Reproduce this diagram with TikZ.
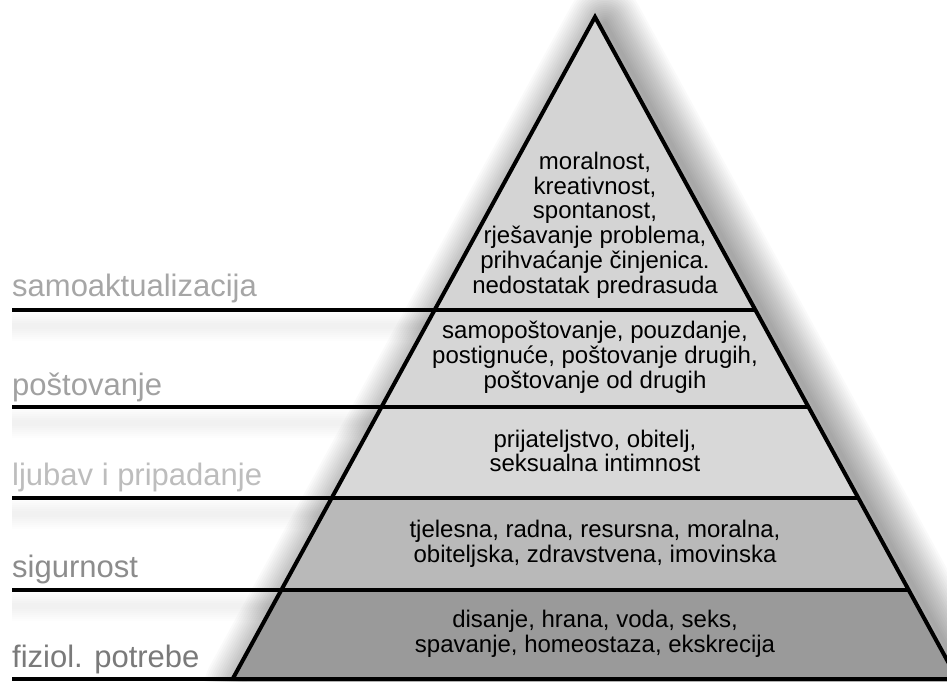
\documentclass[tikz,border=0pt]{standalone}
\usepackage{fontspec}
\setmainfont{Liberation Sans}
\usetikzlibrary{calc}
\definecolor{selffill}{HTML}{D4D4D4}
\definecolor{esteemfill}{HTML}{D6D6D6}
\definecolor{lovefill}{HTML}{D8D8D8}
\definecolor{safefill}{HTML}{B9B9B9}
\definecolor{bodyfill}{HTML}{9A9A9A}
\tikzset{level/.style={anchor=base west,inner sep=0pt,font=\fontsize{31}{31}\selectfont},
  need/.style={align=center,inner sep=0pt,font=\fontsize{24}{24.8}\selectfont},
  bar/.style={line width=4pt},
  blur/.style={line join=round,draw opacity=0.019}}

\begin{document}
\begin{tikzpicture}[x=1pt,y=-1pt]
\useasboundingbox (0,0) rectangle (947,681);
\fill[white] (0,0) rectangle (947,681);

\coordinate (apex) at (595,17);
\coordinate (bl) at (232.6,679);
\coordinate (br) at (957.4,679);

% Shadow of the pyramid
\foreach \w in {76,72,...,4}
  \draw[blur,line width=\w pt] ($(apex)+(10,6)$) -- ($(bl)+(10,6)$) -- ($(br)+(10,6)$) -- cycle;
% Shadow of the bars
\foreach \y/\x in {310/434,407/381,498/331,590/280}
  \foreach \w in {30,26,...,6}
    \draw[line width=\w pt,draw opacity=0.006] (12,\y+16) -- (\x,\y+16);

% Pyramid bands
\fill[selffill] (apex) -- (bl) -- (br) -- cycle;
\begin{scope}
\clip (apex) -- (bl) -- (br) -- cycle;
\fill[esteemfill] (0,310) rectangle (960,407);
\fill[lovefill] (0,407) rectangle (960,498);
\fill[safefill] (0,498) rectangle (960,590);
\fill[bodyfill] (0,590) rectangle (960,681);
\end{scope}

% Bars
\draw[bar] (12,310) -- (755.9,310);
\draw[bar] (12,407) -- (809.1,407);
\draw[bar] (12,498) -- (859.1,498);
\draw[bar] (12,590) -- (909.6,590);
\draw[bar] (12,679) -- (960,679);
\draw[bar,line join=miter] (bl) -- (apex) -- (br);

% Level names
\node[level,text=black!35] (self) at (12,296) {samoaktualizacija};
\node[level,text=black!37] (esteem) at (12,395) {poštovanje};
\node[level,text=black!26] (love) at (12,485) {ljubav i pripadanje};
\node[level,text=black!45] (safety) at (12,577) {sigurnost};
\node[level,text=black!52] (body) at (12,667) {fiziol. potrebe};

% Needs
\node[need] (selfneeds) at (595,225) {moralnost,\\kreativnost,\\spontanost,\\rješavanje problema,\\prihvaćanje činjenica.\\nedostatak predrasuda};
\node[need] (esteemneeds) at (595,357.5) {samopoštovanje, pouzdanje,\\postignuće, poštovanje drugih,\\poštovanje od drugih};
\node[need] (loveneeds) at (595,451) {prijateljstvo, obitelj,\\seksualna intimnost};
\node[need] (safetyneeds) at (595,543.5) {tjelesna, radna, resursna, moralna,\\obiteljska, zdravstvena, imovinska};
\node[need] (bodyneeds) at (595,633.5) {disanje, hrana, voda, seks,\\spavanje, homeostaza, ekskrecija};
\end{tikzpicture}
\end{document}
